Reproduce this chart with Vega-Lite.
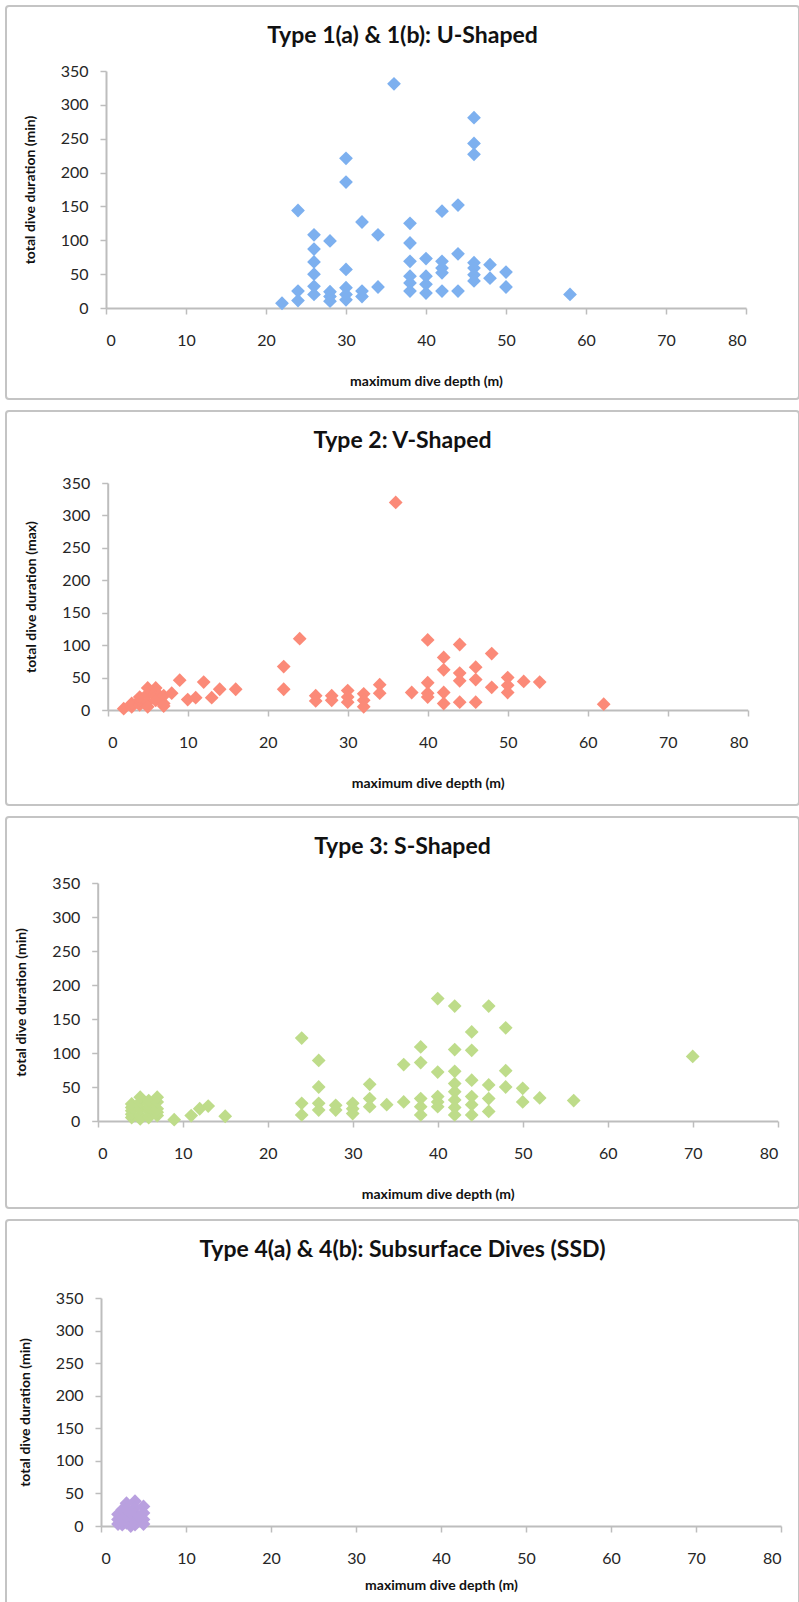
{
  "$schema": "https://vega.github.io/schema/vega-lite/v6.json",
  "background": "white",
  "padding": {"left": 5, "top": 5, "right": 0, "bottom": 0},
  "spacing": 10,
  "config": {
    "view": {"stroke": "#c4c4c4", "strokeWidth": 2, "cornerRadius": 3},
    "font": "Lato",
    "axis": {
      "grid": false,
      "domainColor": "#bdbdbd",
      "domainWidth": 2,
      "tickColor": "#bdbdbd",
      "tickWidth": 1.5,
      "tickSize": 6,
      "labelFont": "Lato",
      "labelFontSize": 16,
      "labelColor": "#262626",
      "titleFont": "Lato",
      "titleFontSize": 14,
      "titleFontWeight": "bold",
      "titleColor": "#111111"
    },
    "axisX": {"labelPadding": 18, "titlePadding": 26},
    "axisY": {"labelPadding": 12, "titlePadding": 23},
    "title": {"font": "Lato", "fontSize": 23, "fontWeight": "bold", "color": "#111111", "anchor": "middle", "baseline": "alphabetic", "offset": -42}
  },
  "vconcat": [
    {
      "width": 793,
      "height": 393,
      "title": "Type 1(a) & 1(b): U-Shaped",
      "data": {
        "values": [
          {"depth": 36, "duration": 331}, {"depth": 46, "duration": 281}, {"depth": 46, "duration": 243},
          {"depth": 46, "duration": 227}, {"depth": 30, "duration": 221}, {"depth": 30, "duration": 186},
          {"depth": 24, "duration": 144}, {"depth": 32, "duration": 127}, {"depth": 38, "duration": 125},
          {"depth": 42, "duration": 143}, {"depth": 44, "duration": 152}, {"depth": 26, "duration": 108},
          {"depth": 28, "duration": 99}, {"depth": 34, "duration": 108}, {"depth": 38, "duration": 96},
          {"depth": 26, "duration": 87}, {"depth": 26, "duration": 68}, {"depth": 26, "duration": 50},
          {"depth": 26, "duration": 32}, {"depth": 26, "duration": 20}, {"depth": 24, "duration": 25},
          {"depth": 24, "duration": 11}, {"depth": 22, "duration": 7}, {"depth": 28, "duration": 24},
          {"depth": 28, "duration": 17}, {"depth": 28, "duration": 10}, {"depth": 30, "duration": 57},
          {"depth": 30, "duration": 30}, {"depth": 30, "duration": 20}, {"depth": 30, "duration": 12},
          {"depth": 32, "duration": 25}, {"depth": 32, "duration": 17}, {"depth": 34, "duration": 31},
          {"depth": 38, "duration": 69}, {"depth": 38, "duration": 47}, {"depth": 38, "duration": 37},
          {"depth": 38, "duration": 25}, {"depth": 40, "duration": 73}, {"depth": 40, "duration": 47},
          {"depth": 40, "duration": 35}, {"depth": 40, "duration": 22}, {"depth": 42, "duration": 69},
          {"depth": 42, "duration": 59}, {"depth": 42, "duration": 52}, {"depth": 42, "duration": 25},
          {"depth": 44, "duration": 80}, {"depth": 44, "duration": 25}, {"depth": 46, "duration": 67},
          {"depth": 46, "duration": 59}, {"depth": 46, "duration": 49}, {"depth": 46, "duration": 40},
          {"depth": 48, "duration": 64}, {"depth": 48, "duration": 44}, {"depth": 50, "duration": 53},
          {"depth": 50, "duration": 31}, {"depth": 58, "duration": 20}
        ]
      },
      "mark": {"type": "point", "shape": "diamond", "filled": true, "size": 190, "opacity": 1, "color": "#7db0ef"},
      "encoding": {
        "x": {
          "field": "depth", "type": "quantitative",
          "scale": {"domain": [0, 80], "range": [100, 740], "nice": false, "zero": false},
          "axis": {"title": "maximum dive depth (m)", "values": [0, 10, 20, 30, 40, 50, 60, 70, 80], "offset": -91}
        },
        "y": {
          "field": "duration", "type": "quantitative",
          "scale": {"domain": [0, 350], "range": [302, 65], "nice": false},
          "axis": {"title": "total dive duration (min)", "values": [0, 50, 100, 150, 200, 250, 300, 350], "offset": -100}
        }
      }
    },
    {
      "width": 793,
      "height": 394,
      "title": "Type 2: V-Shaped",
      "data": {
        "values": [
          {"depth": 2, "duration": 2}, {"depth": 3, "duration": 5}, {"depth": 3, "duration": 10},
          {"depth": 4, "duration": 8}, {"depth": 4, "duration": 15}, {"depth": 4, "duration": 20},
          {"depth": 5, "duration": 25}, {"depth": 5, "duration": 12}, {"depth": 5, "duration": 5},
          {"depth": 5, "duration": 34}, {"depth": 6, "duration": 34}, {"depth": 6, "duration": 28},
          {"depth": 6, "duration": 20}, {"depth": 6, "duration": 15}, {"depth": 7, "duration": 10},
          {"depth": 7, "duration": 22}, {"depth": 7, "duration": 6}, {"depth": 8, "duration": 26},
          {"depth": 9, "duration": 46}, {"depth": 10, "duration": 16}, {"depth": 11, "duration": 19},
          {"depth": 12, "duration": 43}, {"depth": 13, "duration": 19}, {"depth": 14, "duration": 32},
          {"depth": 16, "duration": 32}, {"depth": 22, "duration": 67}, {"depth": 22, "duration": 32},
          {"depth": 24, "duration": 110}, {"depth": 26, "duration": 22}, {"depth": 26, "duration": 14},
          {"depth": 28, "duration": 22}, {"depth": 28, "duration": 15}, {"depth": 30, "duration": 30},
          {"depth": 30, "duration": 20}, {"depth": 30, "duration": 12}, {"depth": 32, "duration": 25},
          {"depth": 32, "duration": 15}, {"depth": 32, "duration": 5}, {"depth": 34, "duration": 39},
          {"depth": 34, "duration": 26}, {"depth": 36, "duration": 320}, {"depth": 38, "duration": 27},
          {"depth": 40, "duration": 108}, {"depth": 40, "duration": 42}, {"depth": 40, "duration": 26},
          {"depth": 40, "duration": 20}, {"depth": 42, "duration": 81}, {"depth": 42, "duration": 62},
          {"depth": 42, "duration": 27}, {"depth": 42, "duration": 10}, {"depth": 44, "duration": 101},
          {"depth": 44, "duration": 57}, {"depth": 44, "duration": 45}, {"depth": 44, "duration": 12},
          {"depth": 46, "duration": 66}, {"depth": 46, "duration": 47}, {"depth": 46, "duration": 12},
          {"depth": 48, "duration": 87}, {"depth": 48, "duration": 35}, {"depth": 50, "duration": 50},
          {"depth": 50, "duration": 38}, {"depth": 50, "duration": 27}, {"depth": 52, "duration": 44},
          {"depth": 54, "duration": 43}, {"depth": 62, "duration": 9}
        ]
      },
      "mark": {"type": "point", "shape": "diamond", "filled": true, "size": 190, "opacity": 1, "color": "#fb8a78"},
      "encoding": {
        "x": {
          "field": "depth", "type": "quantitative",
          "scale": {"domain": [0, 80], "range": [101.7, 741.7], "nice": false, "zero": false},
          "axis": {"title": "maximum dive depth (m)", "values": [0, 10, 20, 30, 40, 50, 60, 70, 80], "offset": -95}
        },
        "y": {
          "field": "duration", "type": "quantitative",
          "scale": {"domain": [0, 350], "range": [299, 72], "nice": false},
          "axis": {"title": "total dive duration (max)", "values": [0, 50, 100, 150, 200, 250, 300, 350], "offset": -101.7}
        }
      }
    },
    {
      "width": 793,
      "height": 391,
      "title": "Type 3: S-Shaped",
      "data": {
        "values": [
          {"depth": 4, "duration": 5}, {"depth": 4, "duration": 10}, {"depth": 4, "duration": 15},
          {"depth": 4, "duration": 20}, {"depth": 4, "duration": 25}, {"depth": 5, "duration": 3},
          {"depth": 5, "duration": 8}, {"depth": 5, "duration": 18}, {"depth": 5, "duration": 28},
          {"depth": 5, "duration": 35}, {"depth": 6, "duration": 5}, {"depth": 6, "duration": 15},
          {"depth": 6, "duration": 20}, {"depth": 6, "duration": 25}, {"depth": 6, "duration": 30},
          {"depth": 7, "duration": 8}, {"depth": 7, "duration": 13}, {"depth": 7, "duration": 18},
          {"depth": 7, "duration": 28}, {"depth": 7, "duration": 35}, {"depth": 9, "duration": 2},
          {"depth": 11, "duration": 8}, {"depth": 12, "duration": 18}, {"depth": 13, "duration": 22},
          {"depth": 15, "duration": 7}, {"depth": 24, "duration": 122}, {"depth": 24, "duration": 26},
          {"depth": 24, "duration": 9}, {"depth": 26, "duration": 89}, {"depth": 26, "duration": 50},
          {"depth": 26, "duration": 26}, {"depth": 26, "duration": 16}, {"depth": 28, "duration": 23},
          {"depth": 28, "duration": 16}, {"depth": 30, "duration": 26}, {"depth": 30, "duration": 18},
          {"depth": 30, "duration": 11}, {"depth": 32, "duration": 54}, {"depth": 32, "duration": 33},
          {"depth": 32, "duration": 21}, {"depth": 34, "duration": 24}, {"depth": 36, "duration": 83},
          {"depth": 36, "duration": 28}, {"depth": 38, "duration": 109}, {"depth": 38, "duration": 86},
          {"depth": 38, "duration": 33}, {"depth": 38, "duration": 21}, {"depth": 38, "duration": 9},
          {"depth": 40, "duration": 180}, {"depth": 40, "duration": 72}, {"depth": 40, "duration": 36},
          {"depth": 40, "duration": 28}, {"depth": 40, "duration": 21}, {"depth": 42, "duration": 169},
          {"depth": 42, "duration": 105}, {"depth": 42, "duration": 73}, {"depth": 42, "duration": 55},
          {"depth": 42, "duration": 43}, {"depth": 42, "duration": 31}, {"depth": 42, "duration": 20},
          {"depth": 42, "duration": 9}, {"depth": 44, "duration": 131}, {"depth": 44, "duration": 104},
          {"depth": 44, "duration": 60}, {"depth": 44, "duration": 36}, {"depth": 44, "duration": 24},
          {"depth": 44, "duration": 9}, {"depth": 46, "duration": 169}, {"depth": 46, "duration": 53},
          {"depth": 46, "duration": 33}, {"depth": 46, "duration": 14}, {"depth": 48, "duration": 137},
          {"depth": 48, "duration": 74}, {"depth": 48, "duration": 50}, {"depth": 50, "duration": 48},
          {"depth": 50, "duration": 28}, {"depth": 52, "duration": 34}, {"depth": 56, "duration": 30},
          {"depth": 70, "duration": 95}
        ]
      },
      "mark": {"type": "point", "shape": "diamond", "filled": true, "size": 190, "opacity": 1, "color": "#bedc8a"},
      "encoding": {
        "x": {
          "field": "depth", "type": "quantitative",
          "scale": {"domain": [0, 80], "range": [91.7, 771.7], "nice": false, "zero": false},
          "axis": {"title": "maximum dive depth (m)", "values": [0, 10, 20, 30, 40, 50, 60, 70, 80], "offset": -87}
        },
        "y": {
          "field": "duration", "type": "quantitative",
          "scale": {"domain": [0, 350], "range": [304, 66], "nice": false},
          "axis": {"title": "total dive duration (min)", "values": [0, 50, 100, 150, 200, 250, 300, 350], "offset": -91.7}
        }
      }
    },
    {
      "width": 793,
      "height": 400,
      "title": "Type 4(a) & 4(b): Subsurface Dives (SSD)",
      "data": {
        "values": [
          {"depth": 2, "duration": 3}, {"depth": 2, "duration": 10}, {"depth": 2, "duration": 18},
          {"depth": 2.5, "duration": 25}, {"depth": 2.5, "duration": 2}, {"depth": 3, "duration": 35},
          {"depth": 3, "duration": 5}, {"depth": 3, "duration": 15}, {"depth": 3, "duration": 25},
          {"depth": 3.5, "duration": 0}, {"depth": 4, "duration": 38}, {"depth": 4, "duration": 28},
          {"depth": 4, "duration": 18}, {"depth": 4, "duration": 8}, {"depth": 4, "duration": 2},
          {"depth": 5, "duration": 30}, {"depth": 5, "duration": 20}, {"depth": 5, "duration": 10},
          {"depth": 5, "duration": 3}, {"depth": 3.5, "duration": 20}, {"depth": 4.5, "duration": 14}
        ]
      },
      "mark": {"type": "point", "shape": "diamond", "filled": true, "size": 190, "opacity": 1, "color": "#b9a0df"},
      "encoding": {
        "x": {
          "field": "depth", "type": "quantitative",
          "scale": {"domain": [0, 80], "range": [95, 775], "nice": false, "zero": false},
          "axis": {"title": "maximum dive depth (m)", "values": [0, 10, 20, 30, 40, 50, 60, 70, 80], "offset": -94, "titlePadding": 12}
        },
        "y": {
          "field": "duration", "type": "quantitative",
          "scale": {"domain": [0, 350], "range": [306, 78], "nice": false},
          "axis": {"title": "total dive duration (min)", "values": [0, 50, 100, 150, 200, 250, 300, 350], "offset": -95}
        }
      }
    }
  ]
}
